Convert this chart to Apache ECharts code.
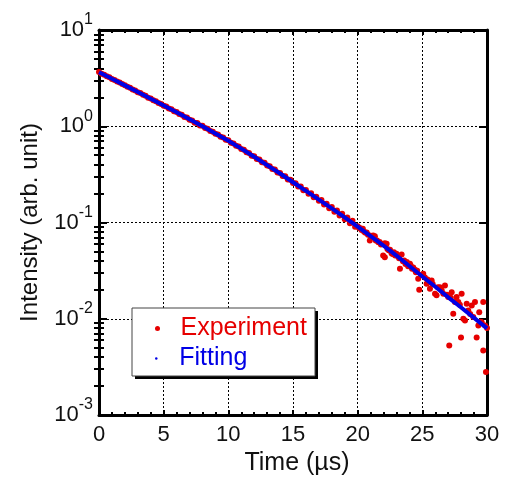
<!DOCTYPE html>
<html><head><meta charset="utf-8">
<script src="https://cdn.jsdelivr.net/npm/echarts@6/dist/echarts.min.js"></script>
<style>html,body{margin:0;padding:0;background:#fff}#c{width:510px;height:481px}</style>
</head><body><div id="c"></div>
<script>
// ---- data ----
const fitTime = [0,1,2,3,4,5,6,7,8,9,10,11,12,13,14,15,16,17,18,19,20,21,22,23,24,25,26,27,28,29,30];
const fitIntensity = [3.64,3.11,2.66,2.27,1.93,1.64,1.40,1.18,1.00,0.841,0.708,0.586,0.482,0.395,0.323,0.262,0.213,0.173,0.140,0.113,0.0906,0.0723,0.0574,0.0453,0.0353,0.0275,0.0215,0.0167,0.0131,0.0102,0.00794];

const expTime = [
 0.0,0.2,0.4,0.6,0.8,1.0,1.2,1.4,1.6,1.8,2.0,2.2,2.4,2.6,2.8,3.0,3.2,3.4,3.6,3.8,
 4.0,4.2,4.4,4.6,4.8,5.0,5.2,5.4,5.6,5.8,6.0,6.2,6.4,6.6,6.8,7.0,7.2,7.4,7.6,7.8,
 8.0,8.2,8.4,8.6,8.8,9.0,9.2,9.4,9.6,9.8,10.0,10.2,10.4,10.6,10.8,11.0,11.2,11.4,11.6,11.8,
 12.0,12.2,12.4,12.6,12.8,13.0,13.2,13.4,13.6,13.8,14.0,14.2,14.4,14.6,14.8,15.0,15.2,15.4,15.6,15.8,
 16.0,16.2,16.4,16.6,16.8,17.0,17.2,17.4,17.6,17.8,18.0,18.2,18.4,18.6,18.8,19.0,19.2,19.4,19.6,19.8,
 20.0,20.1,20.2,20.3,20.4,20.5,20.6,20.7,20.8,20.94,21.0,21.1,21.2,21.33,21.4,21.5,21.6,21.7,21.8,21.9,
 21.97,22.1,22.1,22.24,22.3,22.4,22.5,22.62,22.7,22.8,22.9,23.0,23.1,23.2,23.27,23.4,23.5,23.6,23.7,23.8,
 23.9,24.04,24.1,24.2,24.3,24.43,24.5,24.6,24.68,24.76,24.9,25.07,25.2,25.33,25.4,25.5,25.59,25.72,25.8,25.98,
 26.1,26.2,26.36,26.5,26.62,26.75,26.9,27.0,27.08,27.2,27.27,27.39,27.52,27.65,27.78,27.9,27.99,28.04,28.17,28.3,
 28.43,28.55,28.7,28.82,28.94,29.07,29.2,29.33,29.4,29.5,29.59,29.71,29.71,29.85,29.92,30.0
];
const expIntensity = [
 3.66,3.52,3.43,3.30,3.22,3.10,3.03,2.91,2.84,2.74,2.67,2.57,2.51,2.41,2.35,2.26,2.21,2.12,2.07,1.98,
 1.94,1.86,1.82,1.74,1.70,1.63,1.60,1.53,1.50,1.43,1.41,1.34,1.32,1.25,1.23,1.17,1.15,1.09,1.08,1.02,
 1.01,0.958,0.940,0.894,0.878,0.834,0.820,0.778,0.765,0.725,0.715,0.675,0.662,0.626,0.615,0.580,0.570,0.536,0.527,0.495,
 0.488,0.457,0.451,0.422,0.417,0.390,0.384,0.359,0.355,0.331,0.327,0.305,0.302,0.280,0.278,0.257,0.256,0.236,0.236,0.216,
 0.218,0.199,0.201,0.183,0.185,0.168,0.171,0.154,0.157,0.141,0.145,0.129,0.133,0.118,0.123,0.108,0.113,0.098,0.104,0.0905,
 0.0915,0.0880,0.0872,0.0838,0.0860,0.0800,0.0782,0.0785,0.0748,0.0650,0.0730,0.0712,0.0733,0.0721,0.0650,0.0652,0.0622,0.0628,0.0590,0.0598,
 0.0454,0.0610,0.0436,0.0601,0.0530,0.0515,0.0520,0.0480,0.0470,0.0490,0.0455,0.0473,0.0448,0.0425,0.0330,0.0465,0.0395,0.0402,0.0370,0.0388,
 0.0352,0.0372,0.0357,0.0330,0.0340,0.0323,0.0305,0.0315,0.0260,0.0200,0.0285,0.0293,0.0268,0.0231,0.0255,0.0238,0.0205,0.0250,0.0229,0.0182,
 0.0175,0.0212,0.0213,0.0196,0.0182,0.0221,0.0178,0.0168,0.00527,0.0165,0.0189,0.0113,0.0149,0.0168,0.0149,0.0140,0.0064,0.0182,0.0100,0.0096,
 0.0143,0.0122,0.0112,0.0137,0.0104,0.0149,0.0064,0.0085,0.0117,0.0093,0.0092,0.0149,0.00468,0.0085,0.00279,0.0080
];

const xTicks = [0,5,10,15,20,25,30];
const yMinorTicks = [0.002,0.003,0.004,0.005,0.006,0.007,0.008,0.009,
  0.02,0.03,0.04,0.05,0.06,0.07,0.08,0.09,
  0.2,0.3,0.4,0.5,0.6,0.7,0.8,0.9,
  2,3,4,5,6,7,8,9];
const seriesNames = ['Experiment','Fitting'];

// ---- chart ----
const FONT = "'Liberation Sans', Arial, Helvetica, sans-serif";
const RED = '#e60000', BLUE = '#0000e6';
const chart = echarts.init(document.getElementById('c'), null, {renderer:'canvas'});

const dotted = {color:'#000', width:1, type:[2,2]};
const majorY = {
  type:'log', logBase:10, min:0.001, max:10,
  axisLine:{show:true, onZero:false, lineStyle:{color:'#000', width:3}},
  axisTick:{show:true, inside:true, length:8, lineStyle:{color:'#000', width:2}},
  splitLine:{show:false}, axisLabel:{show:false}
};
const minorY = {
  type:'log', logBase:10, min:0.001, max:10,
  axisLine:{show:false},
  axisTick:{show:true, inside:true, length:5, customValues:yMinorTicks, lineStyle:{color:'#000', width:2}},
  splitLine:{show:false}, axisLabel:{show:false}
};
const majorX = {
  type:'value', min:0, max:30, interval:5,
  axisLine:{show:true, onZero:false, lineStyle:{color:'#000', width:3}},
  axisTick:{show:true, inside:true, length:5, lineStyle:{color:'#000', width:2}},
  minorTick:{show:true, splitNumber:5, length:3, lineStyle:{color:'#000', width:2}},
  splitLine:{show:false}, axisLabel:{show:false}
};

chart.setOption({
  animation:false,
  backgroundColor:'#fff',
  grid:{left:99, right:23, top:30, bottom:66, containLabel:false},
  xAxis:[
    Object.assign({}, majorX, {
      position:'bottom',
      splitLine:{show:true, lineStyle:dotted},
      axisLabel:{show:true, margin:9, color:'#111', fontSize:22, fontFamily:FONT,
        customValues: xTicks},
      name:'Time (µs)', nameLocation:'middle', nameGap:36,
      nameTextStyle:{color:'#111', fontSize:25, fontFamily:FONT, padding:[0,0,0,8]}
    }),
    Object.assign({}, majorX, {position:'top'})
  ],
  yAxis:[
    Object.assign({}, majorY, {
      position:'left',
      splitLine:{show:true, lineStyle:dotted},
      axisLabel:{show:true, margin:6, color:'#111',
        formatter:function(v){ return '{b|10}{s|' + Math.round(Math.log(v)/Math.LN10) + '}'; },
        rich:{
          b:{fontSize:22, fontFamily:FONT, color:'#111', padding:[7,0,7,0]},
          s:{fontSize:16, fontFamily:FONT, color:'#111', verticalAlign:'top'}
        }},
      name:'Intensity (arb. unit)', nameLocation:'middle', nameGap:57, nameRotate:90,
      nameTextStyle:{color:'#111', fontSize:24, fontFamily:FONT}
    }),
    Object.assign({}, majorY, {position:'right'}),
    Object.assign({}, minorY, {position:'left'}),
    Object.assign({}, minorY, {position:'right'})
  ],
  legend:[
    {data:[seriesNames[0]], left:155, top:316, padding:0, icon:'circle', itemWidth:36, itemHeight:5,
     selectedMode:false, z:10, textStyle:{color:RED, fontSize:25, fontFamily:FONT}},
    {data:[seriesNames[1]], left:155, top:346, padding:0, icon:'circle', itemWidth:36, itemHeight:2.5,
     selectedMode:false, z:10, textStyle:{color:BLUE, fontSize:25, fontFamily:FONT}}
  ],
  graphic:[
    {type:'rect', z:8, shape:{x:135, y:311, width:183, height:68}, style:{fill:'#000'}},
    {type:'rect', z:9, shape:{x:132, y:308, width:183, height:68}, style:{fill:'#fff', stroke:'#444', lineWidth:1}}
  ],
  series:[
    {name:seriesNames[0], type:'scatter', xAxisIndex:0, yAxisIndex:0, clip:false,
     symbol:'circle', symbolSize:6, itemStyle:{color:RED, opacity:1}, z:3,
     data: expTime.map((t,i)=>[t, expIntensity[i]])},
    {name:seriesNames[1], type:'line', xAxisIndex:0, yAxisIndex:0,
     symbol:'circle', symbolSize:2, showSymbol:false, color:BLUE,
     lineStyle:{color:BLUE, width:4}, itemStyle:{color:BLUE}, z:4,
     data: fitTime.map((t,i)=>[t, fitIntensity[i]])}
  ]
});
</script></body></html>
